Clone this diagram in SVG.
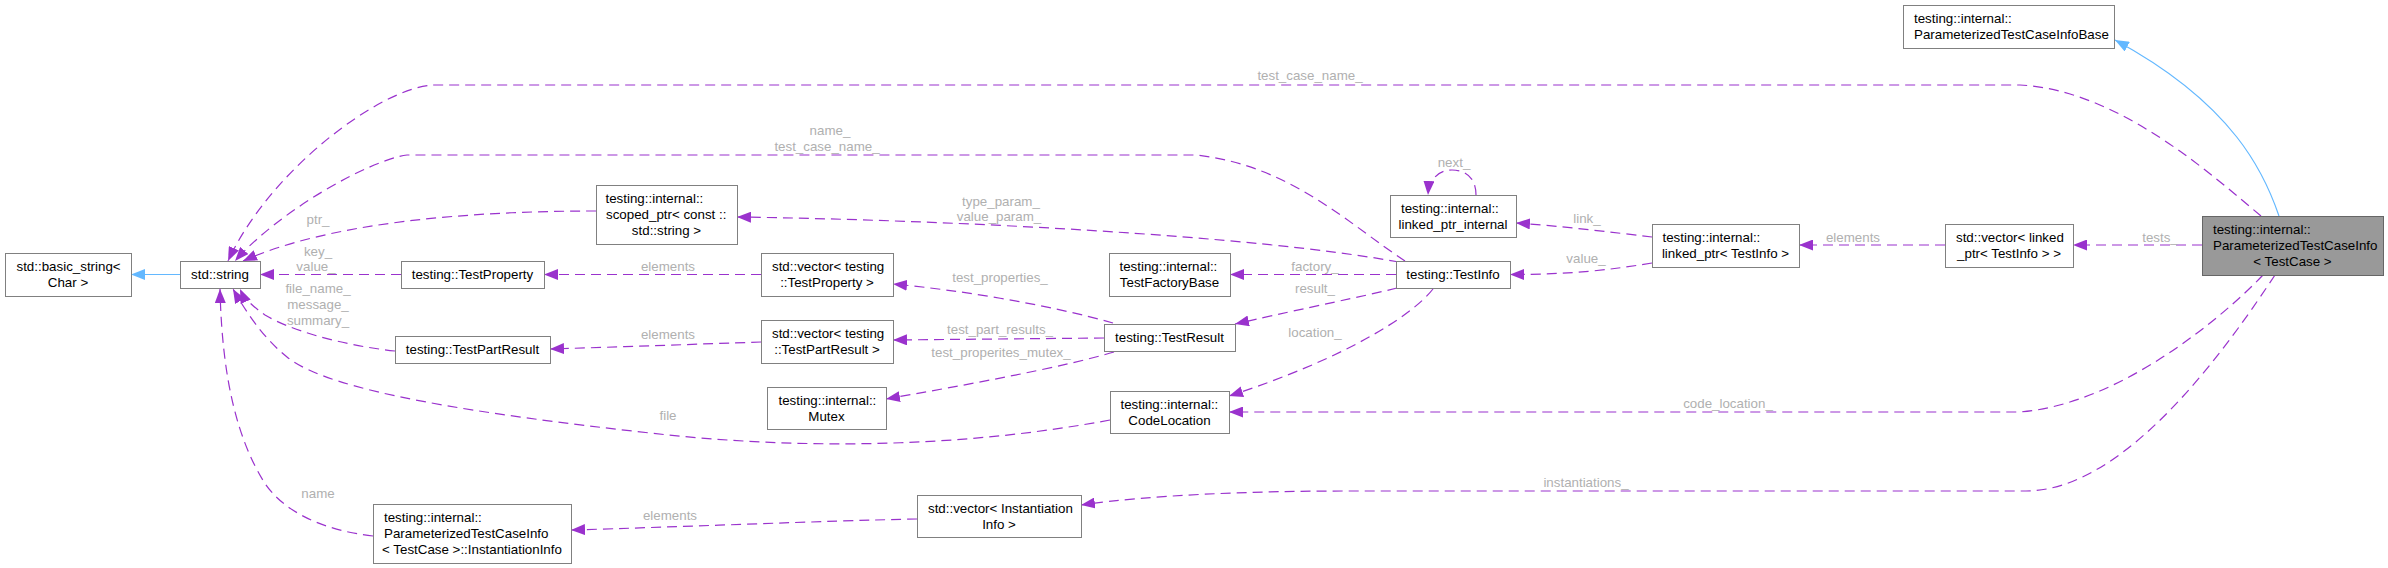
<svg xmlns="http://www.w3.org/2000/svg" width="2388" height="568" viewBox="0 0 2388 568">
<style>
.n{fill:#fff;stroke:#808080;stroke-width:1}
.m{fill:#999;stroke:#666;stroke-width:1}
text{font-family:"Liberation Sans",Arial,sans-serif;font-size:13.33px;fill:#000}
.c{text-anchor:middle}
.l{fill:#b0b0b0;text-anchor:middle}
.e{fill:none;stroke:#9a32cd;stroke-width:1.2;stroke-dasharray:10,6;marker-end:url(#ap)}
.i{fill:none;stroke:#63b8ff;stroke-width:1.2;marker-end:url(#ab)}
</style>
<defs>
<marker id="ap" markerUnits="userSpaceOnUse" markerWidth="14" markerHeight="11" viewBox="0 0 14 11" refX="14" refY="5.5" orient="auto"><path d="M0,0 L14,5.5 L0,11 z" fill="#9a32cd"/></marker>
<marker id="ab" markerUnits="userSpaceOnUse" markerWidth="14" markerHeight="11" viewBox="0 0 14 11" refX="14" refY="5.5" orient="auto"><path d="M0,0 L14,5.5 L0,11 z" fill="#63b8ff"/></marker>
</defs>
<rect width="2388" height="568" fill="#fff"/>
<g id="connectors">
<path class="i" d="M2279,216 C2265,175 2235,105 2115,40"/>
<path class="i" d="M180,274.5 L131,274.5"/>
<path class="e" d="M2261,216 C2215,178 2120,90 2020,85 L433,85 C380,88 270,170 228,261"/>
<path class="e" d="M1405,261 C1350,225 1290,165 1196,155 L407,155 C370,160 280,210 235,261"/>
<path class="e" d="M596,211 C470,211 330,222 243,261"/>
<path class="e" d="M401,274.5 L260,274.5"/>
<path class="e" d="M395,351 C340,345 290,330 265,315 C252,306 244,298 240,289"/>
<path class="e" d="M1110,420 C960,448 800,450 650,433 C480,414 330,392 287,357 C262,337 245,310 233,289"/>
<path class="e" d="M373,536 C320,530 282,510 264,482 C238,440 222,380 220,289"/>
<path class="e" d="M761,274.5 L544,274.5"/>
<path class="e" d="M761,342 C700,344 620,347 550,349"/>
<path class="e" d="M917,519 C820,521 680,527 571,530"/>
<path class="e" d="M1399,262 C1250,235 950,220 737,217"/>
<path class="e" d="M1113,323 C1050,305 960,290 893,284"/>
<path class="e" d="M1104,338 L893,340"/>
<path class="e" d="M1114,352 C1060,368 960,386 886,399"/>
<path class="e" d="M1396,274.5 L1230,274.5"/>
<path class="e" d="M1397,288 C1365,296 1310,307 1235,324"/>
<path class="e" d="M1433,289 C1410,318 1340,360 1229,396"/>
<path class="e" d="M1476,195 C1476,178 1466,170 1452,170 C1438,170 1429,180 1428,195"/>
<path class="e" d="M1652,237 C1610,232 1560,226 1516,223"/>
<path class="e" d="M1652,263 C1610,270 1570,274.5 1510,274.5"/>
<path class="e" d="M1945,245 L1799,245"/>
<path class="e" d="M2202,245 L2073,245"/>
<path class="e" d="M2263,275 C2225,315 2120,405 2019,412 L1229,412"/>
<path class="e" d="M2275,275 C2235,335 2130,491 2026,491 L1350,491 C1250,491 1150,495 1081,505"/>
<text class="l" x="1310" y="80">test_case_name_</text>
<text class="l" x="830" y="135">name_</text>
<text class="l" x="827" y="151">test_case_name_</text>
<text class="l" x="318" y="224">ptr_</text>
<text class="l" x="318" y="256">key_</text>
<text class="l" x="316" y="271">value_</text>
<text class="l" x="318" y="293">file_name_</text>
<text class="l" x="318" y="309">message_</text>
<text class="l" x="318" y="325">summary_</text>
<text class="l" x="668" y="420">file</text>
<text class="l" x="318" y="498">name</text>
<text class="l" x="668" y="271">elements</text>
<text class="l" x="668" y="339">elements</text>
<text class="l" x="670" y="520">elements</text>
<text class="l" x="1001" y="206">type_param_</text>
<text class="l" x="999" y="221">value_param_</text>
<text class="l" x="1000" y="282">test_properties_</text>
<text class="l" x="1000" y="334">test_part_results_</text>
<text class="l" x="1001" y="357">test_properites_mutex_</text>
<text class="l" x="1315" y="271">factory_</text>
<text class="l" x="1315" y="293">result_</text>
<text class="l" x="1315" y="337">location_</text>
<text class="l" x="1454" y="167">next_</text>
<text class="l" x="1587" y="223">link_</text>
<text class="l" x="1586" y="263">value_</text>
<text class="l" x="1853" y="242">elements</text>
<text class="l" x="2160" y="242">tests_</text>
<text class="l" x="1728" y="408">code_location_</text>
<text class="l" x="1586" y="487">instantiations_</text>
</g>
<g id="node-main">
<rect class="m" x="2202.5" y="216.5" width="181" height="59"/>
<text x="2213" y="234">testing::internal::</text>
<text x="2213" y="250">ParameterizedTestCaseInfo</text>
<text class="c" x="2292.5" y="266">&lt; TestCase &gt;</text>
</g>
<g id="node-base">
<rect class="n" x="1903.5" y="5.5" width="211" height="43"/>
<text x="1914" y="23">testing::internal::</text>
<text x="1914" y="39">ParameterizedTestCaseInfoBase</text>
</g>
<g id="node-vec-linked">
<rect class="n" x="1945.5" y="224.5" width="128" height="43"/>
<text x="1956" y="242">std::vector&lt; linked</text>
<text class="c" x="2009" y="258">_ptr&lt; TestInfo &gt; &gt;</text>
</g>
<g id="node-linked-ptr">
<rect class="n" x="1652.5" y="224.5" width="147" height="43"/>
<text x="1662.5" y="242">testing::internal::</text>
<text class="c" x="1725.5" y="258">linked_ptr&lt; TestInfo &gt;</text>
</g>
<g id="node-linked-ptr-internal">
<rect class="n" x="1390.5" y="195.5" width="126" height="42"/>
<text x="1401" y="212.5">testing::internal::</text>
<text class="c" x="1453" y="228.5">linked_ptr_internal</text>
</g>
<g id="node-testinfo">
<rect class="n" x="1396.5" y="261.5" width="114" height="27"/>
<text class="c" x="1453" y="279">testing::TestInfo</text>
</g>
<g id="node-factory">
<rect class="n" x="1109.5" y="253.5" width="121" height="43"/>
<text x="1119.5" y="271">testing::internal::</text>
<text class="c" x="1169.5" y="287">TestFactoryBase</text>
</g>
<g id="node-testresult">
<rect class="n" x="1104.5" y="324.5" width="131" height="27"/>
<text class="c" x="1169.5" y="342">testing::TestResult</text>
</g>
<g id="node-codelocation">
<rect class="n" x="1110.5" y="391.5" width="119" height="42"/>
<text x="1120.5" y="408.5">testing::internal::</text>
<text class="c" x="1169.5" y="424.5">CodeLocation</text>
</g>
<g id="node-vec-testproperty">
<rect class="n" x="761.5" y="253.5" width="132" height="43"/>
<text x="772" y="271">std::vector&lt; testing</text>
<text class="c" x="827" y="287">::TestProperty &gt;</text>
</g>
<g id="node-vec-testpartresult">
<rect class="n" x="761.5" y="320.5" width="132" height="43"/>
<text x="772" y="338">std::vector&lt; testing</text>
<text class="c" x="827" y="354">::TestPartResult &gt;</text>
</g>
<g id="node-mutex">
<rect class="n" x="767.5" y="387.5" width="119" height="42"/>
<text x="778.5" y="404.5">testing::internal::</text>
<text class="c" x="826.5" y="420.5">Mutex</text>
</g>
<g id="node-scoped-ptr">
<rect class="n" x="596.5" y="185.5" width="141" height="59"/>
<text x="605.5" y="203">testing::internal::</text>
<text x="606" y="219">scoped_ptr&lt; const ::</text>
<text class="c" x="666.5" y="235">std::string &gt;</text>
</g>
<g id="node-vec-instantiation">
<rect class="n" x="917.5" y="495.5" width="164" height="42"/>
<text x="928" y="512.5">std::vector&lt; Instantiation</text>
<text class="c" x="999" y="528.5">Info &gt;</text>
</g>
<g id="node-instantiationinfo">
<rect class="n" x="373.5" y="504.5" width="198" height="59"/>
<text x="384" y="522">testing::internal::</text>
<text x="384" y="538">ParameterizedTestCaseInfo</text>
<text class="c" x="472" y="554">&lt; TestCase &gt;::InstantiationInfo</text>
</g>
<g id="node-testpartresult">
<rect class="n" x="395.5" y="336.5" width="155" height="27"/>
<text class="c" x="472.5" y="354">testing::TestPartResult</text>
</g>
<g id="node-testproperty">
<rect class="n" x="401.5" y="261.5" width="143" height="27"/>
<text class="c" x="472.5" y="279">testing::TestProperty</text>
</g>
<g id="node-string">
<rect class="n" x="180.5" y="261.5" width="80" height="27"/>
<text class="c" x="220" y="279">std::string</text>
</g>
<g id="node-basic-string">
<rect class="n" x="5.5" y="253.5" width="126" height="43"/>
<text x="16.5" y="271">std::basic_string&lt;</text>
<text class="c" x="68" y="287">Char &gt;</text>
</g>
</svg>
